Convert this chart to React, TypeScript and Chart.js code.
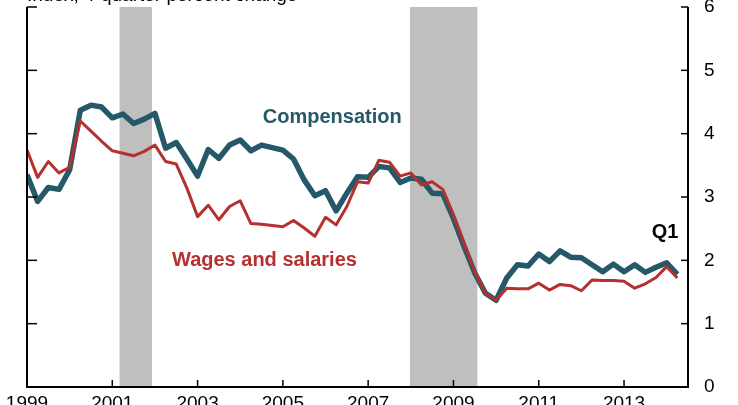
import React, { useEffect, useRef } from "react";
import { Chart, registerables } from "chart.js";
Chart.register(...registerables);

const quarters = [
  "1998Q4",
  "1999Q1", "1999Q2", "1999Q3", "1999Q4",
  "2000Q1", "2000Q2", "2000Q3", "2000Q4",
  "2001Q1", "2001Q2", "2001Q3", "2001Q4",
  "2002Q1", "2002Q2", "2002Q3", "2002Q4",
  "2003Q1", "2003Q2", "2003Q3", "2003Q4",
  "2004Q1", "2004Q2", "2004Q3", "2004Q4",
  "2005Q1", "2005Q2", "2005Q3", "2005Q4",
  "2006Q1", "2006Q2", "2006Q3", "2006Q4",
  "2007Q1", "2007Q2", "2007Q3", "2007Q4",
  "2008Q1", "2008Q2", "2008Q3", "2008Q4",
  "2009Q1", "2009Q2", "2009Q3", "2009Q4",
  "2010Q1", "2010Q2", "2010Q3", "2010Q4",
  "2011Q1", "2011Q2", "2011Q3", "2011Q4",
  "2012Q1", "2012Q2", "2012Q3", "2012Q4",
  "2013Q1", "2013Q2", "2013Q3", "2013Q4",
  "2014Q1",
];

const compensation = [
  3.35, 2.93, 3.15, 3.12, 3.43, 4.37, 4.45, 4.42, 4.25, 4.31,
  4.16, 4.23, 4.32, 3.77, 3.86, 3.6, 3.33, 3.75, 3.61, 3.82,
  3.9, 3.73, 3.82, 3.78, 3.74, 3.6, 3.27, 3.02, 3.1, 2.78,
  3.06, 3.32, 3.31, 3.48, 3.46, 3.23, 3.3, 3.28, 3.06, 3.05,
  2.66, 2.22, 1.8, 1.48, 1.37, 1.72, 1.93, 1.91, 2.1, 1.98,
  2.15, 2.05, 2.04, 1.93, 1.82, 1.94, 1.82, 1.93, 1.81, 1.89,
  1.96, 1.78,
];

const wages = [
  3.74, 3.31, 3.56, 3.38, 3.47, 4.2, 4.04, 3.88, 3.73, 3.69,
  3.65, 3.72, 3.82, 3.56, 3.52, 3.14, 2.69, 2.87, 2.64, 2.85,
  2.94, 2.58, 2.57, 2.55, 2.53, 2.63, 2.51, 2.38, 2.68, 2.56,
  2.85, 3.24, 3.22, 3.58, 3.55, 3.33, 3.38, 3.19, 3.24, 3.12,
  2.72, 2.27, 1.82, 1.48, 1.37, 1.56, 1.55, 1.55, 1.64, 1.53,
  1.62, 1.6, 1.52, 1.69, 1.68, 1.68, 1.67, 1.56, 1.63, 1.73,
  1.9, 1.72,
];

const xTickYears = [1999, 2001, 2003, 2005, 2007, 2009, 2011, 2013];
const yTicks = [0, 1, 2, 3, 4, 5, 6];
const recessionStarts = [2001.17, 2007.98];
const recessionEnds = [2001.93, 2009.56];

const FONT = '"Liberation Sans", Arial, Helvetica, sans-serif';
const BLUE = "#25596a";
const RED = "#b5302e";

const quarterToYear = (q: string) => Number(q.slice(0, 4)) + Number(q.slice(5)) * 0.25;

const overlay = {
  id: "overlay",
  beforeDatasetsDraw(chart: any) {
    const { ctx, chartArea: a, scales } = chart;
    const x = scales.x;
    ctx.save();
    ctx.fillStyle = "#bfbfbf";
    recessionStarts.forEach((s, k) => {
      const x0 = x.getPixelForValue(s);
      const x1 = x.getPixelForValue(recessionEnds[k]);
      ctx.fillRect(x0, a.top, x1 - x0, a.bottom - a.top);
    });
    ctx.restore();
  },
  afterDatasetsDraw(chart: any) {
    const { ctx, chartArea: a, scales } = chart;
    const x = scales.x;
    const y = scales.y;
    const seg = (x0: number, y0: number, x1: number, y1: number) => {
      ctx.beginPath();
      ctx.moveTo(x0, y0);
      ctx.lineTo(x1, y1);
      ctx.stroke();
    };
    ctx.save();
    ctx.strokeStyle = "#000";
    ctx.lineWidth = 2;
    ctx.beginPath();
    ctx.moveTo(a.left, a.top);
    ctx.lineTo(a.left, a.bottom);
    ctx.lineTo(a.right, a.bottom);
    ctx.lineTo(a.right, a.top);
    ctx.stroke();
    ctx.lineWidth = 1.5;
    yTicks.forEach((v) => {
      const py = y.getPixelForValue(v);
      seg(a.left, py, a.left + 10, py);
      seg(a.right - 7, py, a.right, py);
    });
    xTickYears.forEach((v) => {
      const px = x.getPixelForValue(v);
      seg(px, a.bottom, px, a.bottom - 7);
    });

    ctx.textAlign = "left";
    ctx.textBaseline = "alphabetic";
    ctx.font = "bold 20px " + FONT;
    ctx.fillStyle = BLUE;
    ctx.fillText("Compensation", x.getPixelForValue(2004.53), y.getPixelForValue(4.17));
    ctx.fillStyle = RED;
    ctx.fillText("Wages and salaries", x.getPixelForValue(2002.4), y.getPixelForValue(1.91));
    ctx.fillStyle = "#000";
    ctx.fillText("Q1", x.getPixelForValue(2013.65), y.getPixelForValue(2.35));

    ctx.font = "19px " + FONT;
    ctx.fillText("Index, 4-quarter percent change", a.left, 1);
    ctx.restore();
  },
};

export default function App() {
  const ref = useRef<HTMLCanvasElement>(null);
  useEffect(() => {
    if (!ref.current) return;
    const chart = new Chart(ref.current, {
      type: "line",
      data: {
        datasets: [
          {
            label: "Wages and salaries",
            data: quarters.map((q, i) => ({ x: quarterToYear(q), y: wages[i] })),
            borderColor: RED,
            borderWidth: 3,
            pointRadius: 0,
            tension: 0,
            borderJoinStyle: "round",
          },
          {
            label: "Compensation",
            data: quarters.map((q, i) => ({ x: quarterToYear(q), y: compensation[i] })),
            borderColor: BLUE,
            borderWidth: 5.5,
            pointRadius: 0,
            tension: 0,
            borderJoinStyle: "round",
          },
        ],
      },
      options: {
        responsive: false,
        animation: false,
        layout: { padding: { top: 7, left: 27, right: 0, bottom: 0 } },
        plugins: { legend: { display: false }, tooltip: { enabled: false } },
        scales: {
          x: {
            type: "linear",
            min: 1999,
            max: 2014.5,
            grid: { display: false, drawTicks: false },
            border: { display: false },
            afterBuildTicks: (s: any) => {
              s.ticks = xTickYears.map((v) => ({ value: v }));
            },
            afterFit: (s: any) => {
              s.height = 18;
              s.paddingLeft = 0;
              s.paddingRight = 0;
            },
            ticks: {
              color: "#000",
              font: { family: FONT, size: 19 },
              padding: 5,
              maxRotation: 0,
              autoSkip: false,
              callback: (v: any) => String(v),
            },
          },
          y: {
            position: "right",
            min: 0,
            max: 6,
            grid: { display: false, drawTicks: false },
            border: { display: false },
            afterFit: (s: any) => {
              s.width = 50;
              s.paddingTop = 0;
              s.paddingBottom = 0;
            },
            ticks: {
              stepSize: 1,
              color: "#000",
              font: { family: FONT, size: 19 },
              padding: 16,
            },
          },
        },
      },
      plugins: [overlay],
    } as any);
    return () => chart.destroy();
  }, []);
  return (
    <div style={{ position: "absolute", left: 0, top: 0, width: 738, height: 405 }}>
      <canvas ref={ref} width={738} height={405} style={{ display: "block" }} />
    </div>
  );
}
